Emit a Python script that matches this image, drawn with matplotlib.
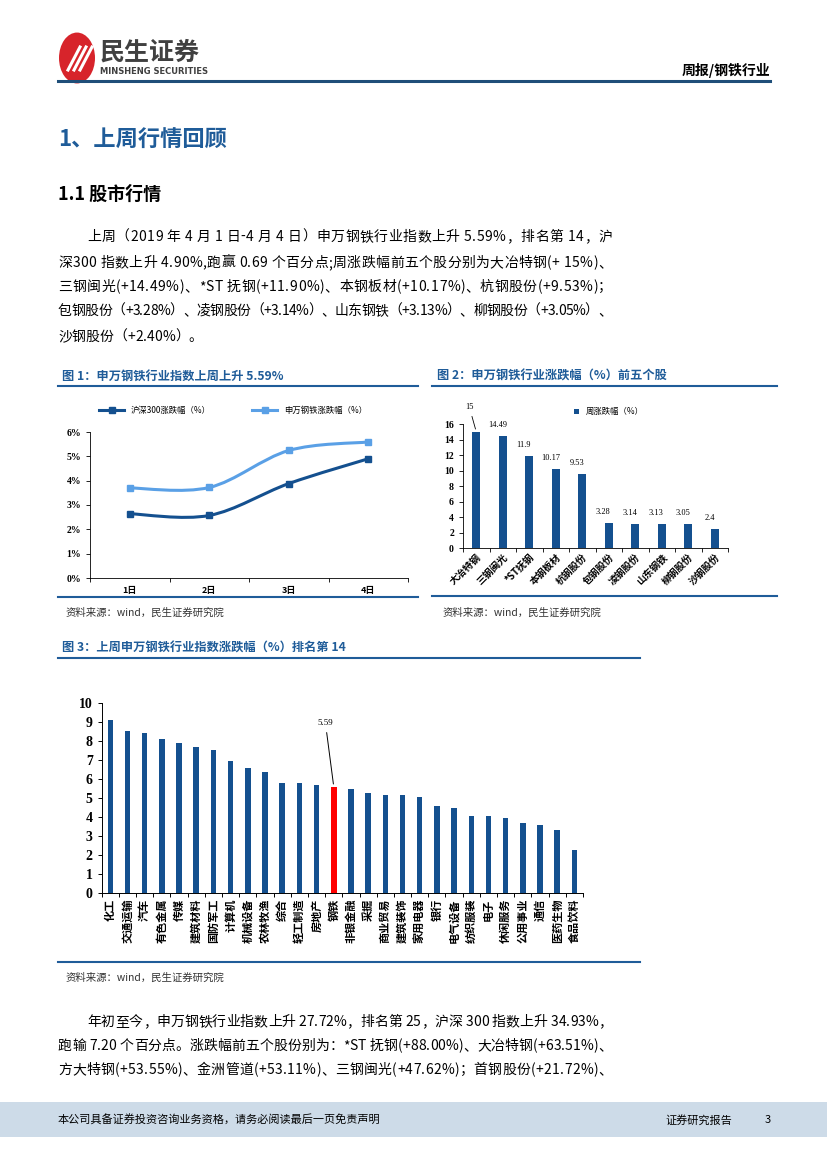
import numpy as np
import matplotlib
matplotlib.use('Agg')
import matplotlib.pyplot as plt
from matplotlib.path import Path
from matplotlib.patches import PathPatch, Circle, Rectangle

plt.rcParams['font.family'] = ['Noto Sans CJK SC', 'DejaVu Sans']

W, H = 827, 1169

# 图1 数据
days = ['1日', '2日', '3日', '4日']
hs300 = [2.64, 2.57, 3.88, 4.90]
steel = [3.70, 3.72, 5.24, 5.59]

# 图2 数据
stocks = ['大冶特钢', '三钢闽光', '*ST抚钢', '本钢板材', '杭钢股份',
          '包钢股份', '凌钢股份', '山东钢铁', '柳钢股份', '沙钢股份']
stock_chg = [15.00, 14.49, 11.90, 10.17, 9.53, 3.28, 3.14, 3.13, 3.05, 2.40]

# 图3 数据
industries = ['化工', '交通运输', '汽车', '有色金属', '传媒', '建筑材料', '国防军工',
              '计算机', '机械设备', '农林牧渔', '综合', '轻工制造', '房地产', '钢铁',
              '非银金融', '采掘', '商业贸易', '建筑装饰', '家用电器', '银行', '电气设备',
              '纺织服装', '电子', '休闲服务', '公用事业', '通信', '医药生物', '食品饮料']
ind_chg = [9.09, 8.53, 8.39, 8.10, 7.90, 7.66, 7.52, 6.96, 6.59, 6.36, 5.77, 5.77, 5.68,
           5.59, 5.46, 5.28, 5.16, 5.16, 5.05, 4.58, 4.46, 4.07, 4.07, 3.93, 3.70, 3.58,
           3.32, 2.29]

BLUE = '#1F5C99'
DARK = '#14508F'
LIGHT = '#5AA0E6'

fig = plt.figure(figsize=(W / 100, H / 100), dpi=100)
renderer = fig.canvas.get_renderer()


def T(x, y, s, **kw):
    kw.setdefault('va', 'center')
    return fig.text(x / W, 1 - y / H, s, **kw)


def justify(x0, x1, y, s, fs=10):
    # 两端对齐：逐字放置，多余的空隙平均分到字间
    widths = []
    for ch in s:
        t = T(0, 0, ch if ch != ' ' else '\u00a0', fontsize=fs)
        widths.append(t.get_window_extent(renderer).width)
        t.remove()
    gap = (x1 - x0 - sum(widths)) / (len(s) - 1) if x1 else 0
    x = x0
    for ch, w in zip(s, widths):
        if ch != ' ':
            T(x, y, ch, fontsize=fs)
        x += w + gap


def px_axes(x0, y0, x1, y1):
    return fig.add_axes([x0 / W, 1 - y1 / H, (x1 - x0) / W, (y1 - y0) / H])


def hline(x0, x1, y, color=BLUE, lw=1.5):
    fig.add_artist(plt.Line2D([x0 / W, x1 / W], [1 - y / H, 1 - y / H], color=color, lw=lw))


def smooth(ax, xs, ys, color):
    # Catmull-Rom 曲线画成贝塞尔路径 (类似 Excel 平滑线)
    p = np.column_stack([xs, ys]).astype(float)
    pts = np.vstack([p[0], p, p[-1]])
    verts = [tuple(p[0])]
    codes = [Path.MOVETO]
    for i in range(1, len(pts) - 2):
        c1 = pts[i] + (pts[i + 1] - pts[i - 1]) / 6
        c2 = pts[i + 1] - (pts[i + 2] - pts[i]) / 6
        verts += [tuple(c1), tuple(c2), tuple(pts[i + 1])]
        codes += [Path.CURVE4] * 3
    ax.add_patch(PathPatch(Path(verts, codes), fc='none', ec=color, lw=2.2))


# ---------- 页眉 ----------
fig.add_artist(Circle((77 / W, 1 - 58 / H), 18 / W, transform=fig.transFigure,
                      color='#D7242B', ec='none'))
for k in range(3):
    fig.add_artist(plt.Line2D([(68 + k * 6) / W, (80 + k * 6) / W],
                              [1 - 70 / H, 1 - 47 / H], color='white', lw=2.2))
T(100, 53, '民生证券', fontsize=18, fontweight='bold', color='#404040')
T(100, 71, 'MINSHENG SECURITIES', fontsize=6, fontweight='bold', color='#404040',
  family='DejaVu Sans')
T(770, 70, '周报/钢铁行业', fontsize=10, fontweight='bold', ha='right')
hline(58, 770, 81, color='#1F4E79', lw=2.2)

# ---------- 标题和正文 ----------
T(58, 140, '1、上周行情回顾', fontsize=16, fontweight='bold', color=BLUE)
T(58, 194, '1.1 股市行情', fontsize=13, fontweight='bold')

justify(87, 612, 237, '上周（2019 年 4 月 1 日-4 月 4 日）申万钢铁行业指数上升 5.59%，排名第 14，沪')
justify(58, 612, 263, '深300 指数上升 4.90%,跑赢 0.69 个百分点;周涨跌幅前五个股分别为大冶特钢(+ 15%)、')
justify(58, 612, 287, '三钢闽光(+14.49%)、*ST 抚钢(+11.90%)、本钢板材(+10.17%)、杭钢股份(+9.53%)；')
justify(58, 612, 311, '包钢股份（+3.28%）、凌钢股份（+3.14%）、山东钢铁（+3.13%）、柳钢股份（+3.05%）、')
justify(58, None, 337, '沙钢股份（+2.40%）。')

# ---------- 图1 ----------
T(62, 376, '图 1：申万钢铁行业指数上周上升 5.59%', fontsize=8.8, fontweight='bold', color=BLUE)
hline(58, 418, 386)
ax1 = px_axes(90, 432, 408, 578)
x = np.arange(len(days))
smooth(ax1, x, hs300, DARK)
smooth(ax1, x, steel, LIGHT)
ax1.plot(x, hs300, ls='none', marker='s', ms=4.5, color=DARK)
ax1.plot(x, steel, ls='none', marker='s', ms=4.5, color=LIGHT)
ax1.plot([], [], color=DARK, lw=2.2, marker='s', ms=4, label='沪深300涨跌幅（%）')
ax1.plot([], [], color=LIGHT, lw=2.2, marker='s', ms=4, label='申万钢铁涨跌幅（%）')
ax1.set_xlim(-0.5, 3.5)
ax1.set_ylim(0, 6)
ax1.set_yticks(range(7))
ax1.set_yticklabels(['%d%%' % v for v in range(7)], family='Liberation Serif',
                    fontweight='bold', fontsize=7)
ax1.set_xticks(np.arange(-0.5, 4, 1))
ax1.set_xticklabels([])
ax1.set_xticks(x, minor=True)
ax1.set_xticklabels(days, minor=True, fontsize=6.5, fontweight='bold')
ax1.tick_params(axis='x', which='minor', length=0, pad=6)
ax1.tick_params(axis='both', which='major', length=3, width=0.6)
for s in ['top', 'right']:
    ax1.spines[s].set_visible(False)
for s in ['left', 'bottom']:
    ax1.spines[s].set_linewidth(0.6)
ax1.legend(loc='center', bbox_to_anchor=(0.45, 1.15), ncol=2, frameon=False,
           fontsize=6, handlelength=3, columnspacing=5)
hline(58, 418, 597)
T(66, 613, '资料来源：wind，民生证券研究院', fontsize=7.5, color='#333333')

# ---------- 图2 ----------
T(437, 376, '图 2：申万钢铁行业涨跌幅（%）前五个股', fontsize=8.8, fontweight='bold', color=BLUE)
hline(432, 777, 386)
ax2 = px_axes(463, 424, 728, 548)
xs = np.arange(len(stocks))
ax2.bar(xs, stock_chg, width=0.3, color=DARK, label='周涨跌幅（%）')
ax2.set_xlim(-0.5, len(stocks) - 0.5)
ax2.set_ylim(0, 16)
ax2.set_yticks(range(0, 17, 2))
ax2.set_yticklabels([str(v) for v in range(0, 17, 2)], family='Liberation Serif',
                    fontweight='bold', fontsize=7)
ax2.set_xticks(np.arange(-0.5, len(stocks), 1))
ax2.set_xticklabels([])
ax2.set_xticks(xs, minor=True)
ax2.set_xticklabels(stocks, minor=True, rotation=45, ha='right', rotation_mode='anchor',
                    fontsize=7, fontweight='bold')
ax2.tick_params(axis='x', which='minor', length=0, pad=3)
ax2.tick_params(axis='both', which='major', length=3, width=0.6)
for s in ['top', 'right']:
    ax2.spines[s].set_visible(False)
for s in ['left', 'bottom']:
    ax2.spines[s].set_linewidth(0.6)
for i, v in enumerate(stock_chg):
    if i == 0:
        ax2.annotate('%g' % v, xy=(i, v), xytext=(-5, 15), textcoords='offset points',
                     ha='center', va='bottom', fontsize=6, family='Liberation Serif',
                     arrowprops=dict(arrowstyle='-', lw=0.6, color='black'))
    else:
        ax2.annotate('%g' % v, xy=(i - 0.2, v), xytext=(0, 5), textcoords='offset points',
                     ha='center', va='bottom', fontsize=6, family='Liberation Serif')
ax2.legend(loc='center', bbox_to_anchor=(0.55, 1.1), frameon=False, fontsize=6,
           handlelength=0.6, handleheight=0.6)
hline(432, 777, 596)
T(443, 613, '资料来源：wind，民生证券研究院', fontsize=7.5, color='#333333')

# ---------- 图3 ----------
T(62, 648, '图 3：上周申万钢铁行业指数涨跌幅（%）排名第 14', fontsize=8.8, fontweight='bold', color=BLUE)
hline(58, 640, 658)
ax3 = px_axes(101.7, 702.7, 583, 893.3)
xi = np.arange(len(industries))
colors = ['#FF0000' if n == '钢铁' else DARK for n in industries]
ax3.bar(xi, ind_chg, width=0.32, color=colors)
ax3.set_xlim(-0.5, len(industries) - 0.5)
ax3.set_ylim(0, 10)
ax3.set_yticks(range(11))
ax3.set_yticklabels([str(v) for v in range(11)], family='Liberation Serif',
                    fontweight='bold', fontsize=10)
ax3.set_xticks(np.arange(-0.5, len(industries), 1))
ax3.set_xticklabels([])
ax3.set_xticks(xi, minor=True)
ax3.set_xticklabels(industries, minor=True, rotation=90, va='top', fontsize=8,
                    fontweight='bold')
ax3.tick_params(axis='x', which='minor', length=0, pad=4)
ax3.tick_params(axis='both', which='major', length=3, width=0.7)
for s in ['top', 'right']:
    ax3.spines[s].set_visible(False)
for s in ['left', 'bottom']:
    ax3.spines[s].set_linewidth(0.7)
k = industries.index('钢铁')
ax3.annotate('%.2f' % ind_chg[k], xy=(k, ind_chg[k]), xytext=(-6, 43),
             textcoords='offset points', ha='center', va='bottom', fontsize=6.5,
             family='Liberation Serif',
             arrowprops=dict(arrowstyle='-', lw=0.7, color='black'))
hline(58, 640, 962)
T(66, 978, '资料来源：wind，民生证券研究院', fontsize=7.5, color='#333333')

# ---------- 正文2 ----------
justify(87, 612, 1022, '年初至今，申万钢铁行业指数上升 27.72%，排名第 25，沪深 300 指数上升 34.93%，')
justify(58, 612, 1046, '跑输 7.20 个百分点。涨跌幅前五个股份别为：*ST 抚钢(+88.00%)、大冶特钢(+63.51%)、')
justify(58, 612, 1070, '方大特钢(+53.55%)、金洲管道(+53.11%)、三钢闽光(+47.62%)；首钢股份(+21.72%)、')

# ---------- 页脚 ----------
fig.add_artist(Rectangle((0, 1 - 1137 / H), 1, 35 / H, transform=fig.transFigure,
                         color='#CDDBE8', ec='none'))
T(58, 1120, '本公司具备证券投资咨询业务资格，请务必阅读最后一页免责声明', fontsize=8)
T(665, 1120, '证券研究报告', fontsize=8)
T(765, 1120, '3', fontsize=8)

fig.savefig('out.png', dpi=100)
